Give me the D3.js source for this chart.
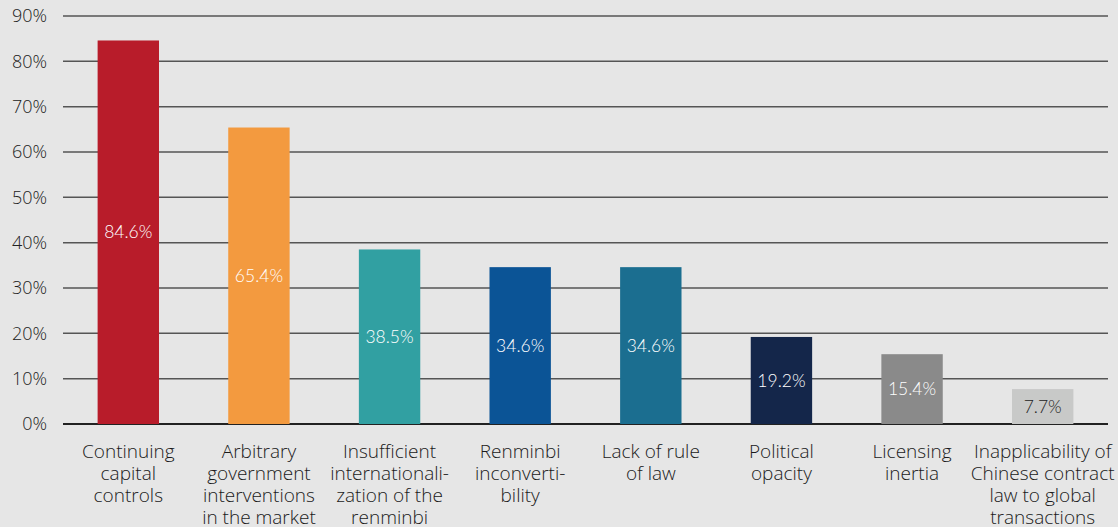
<!DOCTYPE html>
<html>
<head>
<meta charset="utf-8">
<script src="https://cdn.jsdelivr.net/npm/d3@7"></script>
<style>
  body { margin: 0; background: #e6e6e6; }
  svg { display: block; }
  text { font-family: "Lato", "Open Sans", sans-serif; }
  .cat text, .ylab text { font-family: "Open Sans", "Lato", sans-serif; font-weight: 300; }
  .val text { font-weight: 300; }
</style>
</head>
<body>
<div class="chart"></div>
<script>
const categories = [
  ["Continuing", "capital", "controls"],
  ["Arbitrary", "government", "interventions", "in the market"],
  ["Insufficient", "internationali-", "zation of the", "renminbi"],
  ["Renminbi", "inconverti-", "bility"],
  ["Lack of rule", "of law"],
  ["Political", "opacity"],
  ["Licensing", "inertia"],
  ["Inapplicability of", "Chinese contract", "law to global", "transactions"],
];
const values = [84.6, 65.4, 38.5, 34.6, 34.6, 19.2, 15.4, 7.7];
const colors = ["#b81c2a", "#f39a3f", "#31a0a2", "#0b5496", "#1b6e90", "#14264a", "#8a8a8a", "#c8c9c8"];
const labelColors = ["#fff", "#fff", "#fff", "#fff", "#fff", "#fff", "#fff", "#222"];
const yTicks = [0, 10, 20, 30, 40, 50, 60, 70, 80, 90];

const width = 1118;
const height = 527;
const margin = { top: 16, right: 10, bottom: 103, left: 63 };

const svg = d3.select(".chart").append("svg")
  .attr("width", width)
  .attr("height", height);

const x = d3.scaleBand()
  .domain(d3.range(values.length))
  .range([margin.left, width - margin.right])
  .paddingInner(0.53)
  .paddingOuter(0.265);

const y = d3.scaleLinear()
  .domain([0, 90])
  .range([height - margin.bottom, margin.top]);

// gridlines
svg.append("g")
  .selectAll("line")
  .data(yTicks)
  .join("line")
  .attr("x1", margin.left)
  .attr("x2", width - margin.right)
  .attr("y1", (d) => y(d))
  .attr("y2", (d) => y(d))
  .attr("stroke", (d) => (d === 0 ? "#222" : "#555"))
  .attr("stroke-width", (d) => (d === 0 ? 2 : 1.5));

// y labels
svg.append("g")
  .attr("class", "ylab")
  .selectAll("text")
  .data(yTicks)
  .join("text")
  .attr("x", 47)
  .attr("y", (d) => y(d))
  .attr("dy", "0.35em")
  .attr("text-anchor", "end")
  .attr("font-size", 18)
  .attr("fill", "#222")
  .text((d) => d + "%");

// bars
svg.append("g")
  .selectAll("rect")
  .data(values)
  .join("rect")
  .attr("x", (d, i) => x(i))
  .attr("width", x.bandwidth())
  .attr("y", (d) => y(d))
  .attr("height", (d) => y(0) - y(d))
  .attr("fill", (d, i) => colors[i]);

// value labels
svg.append("g")
  .attr("class", "val")
  .selectAll("text")
  .data(values)
  .join("text")
  .attr("x", (d, i) => x(i) + x.bandwidth() / 2)
  .attr("y", (d) => (y(d) + y(0)) / 2)
  .attr("dy", "0.35em")
  .attr("text-anchor", "middle")
  .attr("font-size", 17.5)
  .attr("fill", (d, i) => labelColors[i])
  .text((d) => d + "%");

// category labels
const cats = svg.append("g")
  .attr("class", "cat")
  .selectAll("text")
  .data(categories)
  .join("text")
  .attr("text-anchor", "middle")
  .attr("font-size", 19)
  .attr("fill", "#1a1a1a");

cats.selectAll("tspan")
  .data((d, i) => d.map((line) => ({ line, i })))
  .join("tspan")
  .attr("x", (d) => x(d.i) + x.bandwidth() / 2)
  .attr("y", (d, j) => y(0) + 34 + j * 22)
  .text((d) => d.line);
</script>
</body>
</html>
